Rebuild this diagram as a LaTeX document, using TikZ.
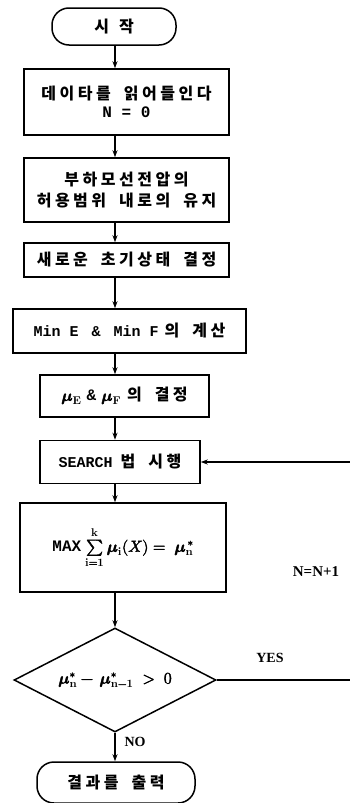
\documentclass[tikz,border=0pt]{standalone}
\usepackage{fontspec}
\usepackage{unicode-math}
\setmathfont{Latin Modern Math}
\setmathfont{Latin Modern Math}[version=bold, FakeBold=2.5]
\usetikzlibrary{shapes.geometric,arrows.meta}
\newfontfamily\kr{Noto Sans CJK KR}[LetterSpace=22, WordSpace=1.8]
\newfontfamily\mono{Liberation Mono}
\newfontfamily\lserif{Liberation Serif}
\begin{document}
\begin{tikzpicture}[x=1pt,y=-1pt,
  box/.style={draw, line width=1.5pt, inner sep=0pt, align=center,
    font=\kr\bfseries\boldmath\fontsize{16}{21}\selectfont},
  term/.style={box, rounded corners=17pt},
  dec/.style={box, diamond, shape aspect=2},
  conn/.style={line width=1.3pt, -{Stealth[length=7pt,width=5pt]}},
  plain/.style={line width=1.3pt},
  lbl/.style={inner sep=0pt, font=\lserif\bfseries\fontsize{14}{16}\selectfont}]
\fill[white] (0,0) rectangle (350,803);
\useasboundingbox (0,0) rectangle (350,803);
\coordinate (ax) at (115,0);
\node[term, minimum width=124pt, minimum height=37pt] (st) at (114,26.5) {시\hspace{10pt}작};
\node[box, minimum width=205pt, minimum height=66pt] (b1) at (126.5,102)
  {데이타를 읽어들인다\\[-3pt]{\mono\fontsize{16}{18}\selectfont N = 0}};
\node[box, minimum width=205pt, minimum height=64pt] (b2) at (126.5,190)
  {부하모선전압의\\허용범위 내로의 유지};
\node[box, minimum width=205pt, minimum height=34pt] (b3) at (126.5,260)
  {새로운 초기상태 결정};
\node[box, minimum width=233pt, minimum height=44pt] (b4) at (129.5,331)
  {{\mono\fontsize{15}{18}\selectfont Min E\hspace{13pt}\&\hspace{13pt}Min F}\hspace{6pt}의 계산};
\node[box, minimum width=169pt, minimum height=42pt] (b5) at (124.5,396)
  {$\symbfit{\mu}_{\mathbf{E}}$\hspace{5pt}{\mono\&}\hspace{5pt}$\symbfit{\mu}_{\mathbf{F}}$\hspace{6pt}의 결정};
\node[box, minimum width=160pt, minimum height=43pt] (b6) at (120,462)
  {{\mono\fontsize{15}{18}\selectfont SEARCH}\hspace{8pt}법 시행};
\node[box, minimum width=206pt, minimum height=89pt] (b7) at (123,547.5)
  {{\mono\fontsize{16}{18}\selectfont MAX}\hspace{4pt}$\sum\limits_{\mathbf{i=1}}^{\mathbf{k}}\symbfit{\mu}_{\mathbf{i}}(X)=\;\symbfit{\mu}_{\mathbf{n}}^{\,*}$};
\node[dec, minimum width=202pt, minimum height=104pt] (d) at (115,680)
  {$\symbfit{\mu}_{\mathbf{n}}^{*}-\,\symbfit{\mu}_{\mathbf{n-1}}^{*}\;>\;0$};
\node[term, minimum width=158pt, minimum height=41pt] (en) at (116,782.5) {결과를 출력};
\draw[conn] (st.south -| ax) -- (b1.north -| ax);
\draw[conn] (b1.south -| ax) -- (b2.north -| ax);
\draw[conn] (b2.south -| ax) -- (b3.north -| ax);
\draw[conn] (b3.south -| ax) -- (b4.north -| ax);
\draw[conn] (b4.south -| ax) -- (b5.north -| ax);
\draw[conn] (b5.south -| ax) -- (b6.north -| ax);
\draw[conn] (b6.south -| ax) -- (b7.north -| ax);
\draw[conn] (b7.south -| ax) -- (d.north);
\draw[conn] (d.south) -- (en.north -| d.south);
\coordinate (fbB) at (350,680);
\coordinate (fbT) at (350,462);
\draw[plain] (d.east) -- (fbB);
\draw[conn] (fbT) -- (b6.east);
\node[lbl] (yes) at (270,658) {YES};
\node[lbl] (no) at (135,742) {NO};
\node[lbl, font=\lserif\bfseries\fontsize{15}{17}\selectfont] (inc) at (316,572) {N=N+1};
\end{tikzpicture}
\end{document}
